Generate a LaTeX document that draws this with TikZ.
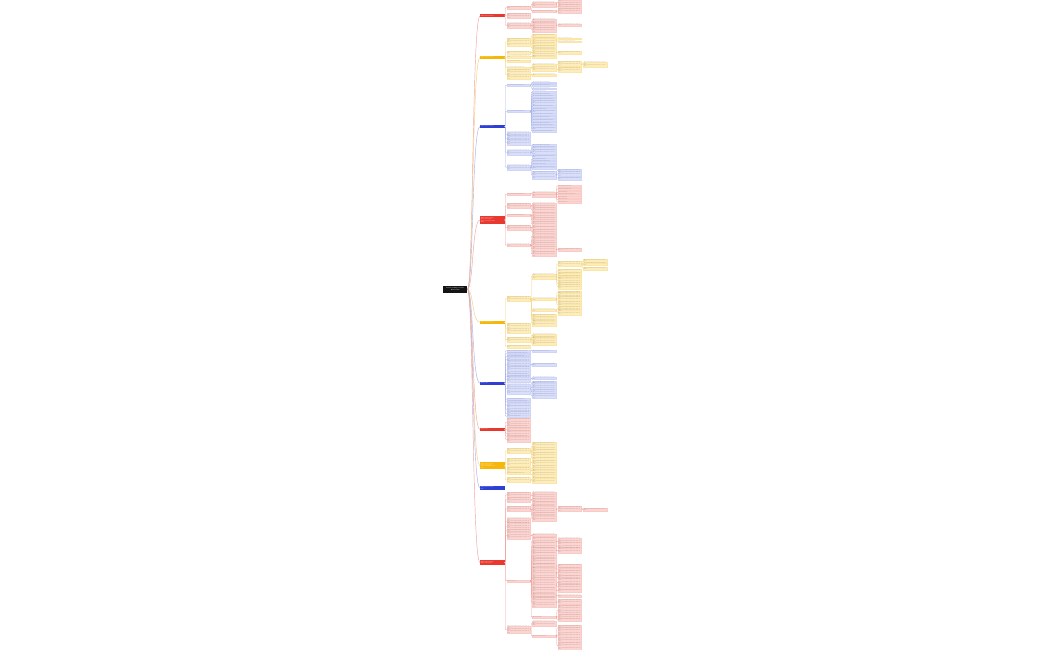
\documentclass[tikz,border=0pt]{standalone}
\usepackage{tikz}
\definecolor{rtop}{HTML}{E8382F}
\definecolor{rfill}{HTML}{FBD5D2}
\definecolor{rdraw}{HTML}{F9CBC7}
\definecolor{rline}{HTML}{F3A29E}
\definecolor{rtext}{HTML}{7A4C4A}
\definecolor{ytop}{HTML}{F6B60A}
\definecolor{yfill}{HTML}{FDEDBC}
\definecolor{ydraw}{HTML}{FBE6A8}
\definecolor{yline}{HTML}{F5D27C}
\definecolor{ytext}{HTML}{76683E}
\definecolor{btop}{HTML}{2E3FD3}
\definecolor{bfill}{HTML}{D9DEF9}
\definecolor{bdraw}{HTML}{CFD5F6}
\definecolor{bline}{HTML}{A8B2EE}
\definecolor{btext}{HTML}{4E5488}
\definecolor{rootfill}{HTML}{141414}
\newcommand\fullline{Key point with a short note and detail\\}
\newcommand\lineof[1]{\ifdim#1pt<7pt Key item note\else\ifdim#1pt<11pt Key point and a note\else\ifdim#1pt<15pt Key point with a short note\else\ifdim#1pt<19pt Key point with a short note here\else Key point with a short note and detail\fi\fi\fi\fi}
\newcommand\filler[2]{\ifcase#1\or\or\fullline\or\fullline\fullline\or\fullline\fullline\fullline\or\fullline\fullline\fullline\fullline\or\fullline\fullline\fullline\fullline\fullline\or\fullline\fullline\fullline\fullline\fullline\fullline\fi\lineof{#2}}
\tikzset{
  kidbase/.style={anchor=west, minimum width=23.5, text width=22.3, align=left,
    inner xsep=0.6, inner ysep=0.3, outer sep=0pt,
    font=\fontsize{1.05}{1.25}\selectfont, line width=0.1},
  kidr/.style={kidbase, fill=rfill, draw=rdraw, text=rtext},
  kidy/.style={kidbase, fill=yfill, draw=ydraw, text=ytext},
  kidb/.style={kidbase, fill=bfill, draw=bdraw, text=btext},
  lnbase/.style={line width=0.3, rounded corners=0.8},
  liner/.style={lnbase, draw=rline},
  liney/.style={lnbase, draw=yline},
  lineb/.style={lnbase, draw=bline},
  trunk/.style={line width=0.45},
  topbase/.style={anchor=west, minimum width=24.5, text width=23, align=left,
    inner xsep=0.75, inner ysep=0.4, outer sep=0pt,
    font=\fontsize{1.1}{1.4}\selectfont\bfseries, text=white},
  topr/.style={topbase, fill=rtop},
  topy/.style={topbase, fill=ytop},
  topb/.style={topbase, fill=btop},
  rootbox/.style={anchor=west, minimum width=24, minimum height=7, text width=22,
    align=center, inner sep=0.5, fill=rootfill, text=white,
    font=\fontsize{1.4}{1.8}\selectfont\bfseries}
}
\newcommand\kids[4]{%
  \foreach \yy/\nn/\ww [count=\ii] in {#4}{%
    \node[kid#3, minimum height={\nn*1.25+0.6}] (#1-\ii) at (#2,\yy) {\filler{\nn}{\ww}};
    \draw[line#3] (#1.east) -- ++(0.8,0) |- (#1-\ii.west);
  }}
\begin{document}
\begin{tikzpicture}[x=1pt,y=-1pt]
\useasboundingbox[fill=white] (0,0) rectangle (1050,650);

\node[rootbox] (root) at (443,289.2) {Central Topic Title\\Overview};

\node[topr, minimum height=3] (B1) at (480,16) {Main branch topic};
\node[topy, minimum height=3] (B2) at (480,57.5) {Main branch topic};
\node[topb, minimum height=3] (B3) at (480,126.5) {Main branch topic};
\node[topr, minimum height=8] (B4) at (480,220) {Main branch topic\\supporting line\\supporting line here\\more};
\node[topy, minimum height=3] (B5) at (480,322.3) {Main branch topic};
\node[topb, minimum height=3] (B6) at (480,383.3) {Main topic};
\node[topr, minimum height=3] (B7) at (480,429.7) {Main topic};
\node[topy, minimum height=7] (B8) at (480,465.8) {Main branch topic\\supporting line\\supporting line here\\more};
\node[topb, minimum height=4] (B9) at (480,488) {Main branch topic\\line};
\node[topr, minimum height=5] (B10) at (480,562.5) {Main branch topic\\supporting line};

\foreach \t/\c in {B1/rline,B2/yline,B3/bline,B4/rline,B5/yline,B6/bline,B7/rline,B8/yline,B9/bline,B10/rline}{
  \draw[trunk, draw=\c] (root.east) .. controls +(6,0) and +(-8,0) .. (\t.west);
}

% Branch 1
\kids{B1}{507}{r}{7.5/1/23.5, 16/2/23.5, 25.5/2/23.5}
\kids{B1-1}{532.5}{r}{4.3/2/23.5, 11.3/1/18}
\kids{B1-1-1}{558}{r}{2.2/2/23.5, 7/2/23.5}
\kids{B1-1-2}{558}{r}{11/2/23.5}
\kids{B1-3}{532.5}{r}{21.2/2/23.5, 25.3/2/23.5, 29.8/2/23.5}
\kids{B1-3-2}{558}{r}{25/1/20}

% Branch 2
\kids{B2}{507}{y}{42/3/23.5, 52.5/1/22, 57/1/20, 61/1/9, 67.7/1/13, 74.5/4/23.5}
\kids{B2-1}{532.5}{y}{35.8/1/23.5, 40.3/2/23.5, 44/1/20, 48/2/23.5}
\kids{B2-1-2}{558}{y}{38.5/1/8, 41.5/1/12}
\kids{B2-2}{532.5}{y}{52.7/3/23.5}
\kids{B2-2-1}{558}{y}{52.5/1/23.5}
\kids{B2-3}{532.5}{y}{57/1/23.5}
\kids{B2-5}{532.5}{y}{67.5/3/23.5}
\kids{B2-5-1}{558}{y}{64/2/23.5, 69.7/2/23.5}
\kids{B2-5-1-1}{583.5}{y}{64.5/2/23.5}
\kids{B2-6}{532.5}{y}{75/1/23.5}

% Branch 3
\kids{B3}{507}{b}{85.3/1/13, 111.3/1/13, 134.5/2/23.5, 138.5/2/23.5, 142.5/2/23.5, 152.5/2/23.5, 167.3/2/23.5}
\kids{B3-1}{532.5}{b}{82.5/1/12, 85.3/1/12, 88.5/1/12}
\kids{B3-2}{532.5}{b}{91.7/1/10, 94/1/12, 96.3/1/16, 99.3/1/16, 102.8/2/23.5, 106.3/1/18, 109.3/1/10, 111.7/1/22, 114.3/1/18, 117.3/1/12, 120/1/16, 123/1/14, 125.7/1/16, 128.7/1/20, 131.3/1/18}
\kids{B3-6}{532.5}{b}{145.3/1/14, 148/1/20, 152/2/23.5, 156.3/1/22}
\kids{B3-7}{532.5}{b}{159.3/1/10, 161.7/1/12, 164.7/1/8, 168/1/20, 175/3/23.5}
\kids{B3-7-5}{558}{b}{170.3/1/23.5, 174/2/23.5, 178.3/1/23.5}

% Branch 4
\kids{B4}{507}{r}{194.2/1/12, 206/2/23.5, 215.2/1/13, 227.7/2/23.5, 245.2/1/23.5}
\kids{B4-1}{532.5}{r}{194.2/2/23.5}
\kids{B4-1-1}{558}{r}{185.8/1/8, 188.8/1/8, 192.2/1/5, 194.7/1/12, 197.2/1/6, 199.7/1/6, 202.3/1/6}
\kids{B4-2}{532.5}{r}{205.5/2/23.5, 210/2/23.5}
\kids{B4-3}{532.5}{r}{215.5/2/23.5, 220/2/23.5, 223.8/2/23.5}
\kids{B4-4}{532.5}{r}{227.3/1/23.5, 231.7/2/23.5}
\kids{B4-5}{532.5}{r}{236.3/2/23.5, 240.3/2/23.5, 245/2/23.5, 249/2/23.5, 254/2/23.5}
\kids{B4-5-4}{558}{r}{249.8/1/23.5}

% Branch 5
\kids{B5}{507}{y}{298.8/2/23.5, 328.3/4/23.5, 339.7/2/23.5, 346.3/1/23.5}
\kids{B5-1}{532.5}{y}{276.2/2/23.5, 299.2/1/23.5, 310.2/1/23.5, 315.8/1/23.5, 319.5/2/23.5, 323.3/2/23.5}
\kids{B5-1-1}{558}{y}{264/2/23.5, 270.8/1/23.5, 274/1/23.5, 277.2/1/23.5, 280.2/2/23.5, 283.6/1/23.5, 286.7/2/23.5}
\kids{B5-1-1-1}{583.5}{y}{260.8/1/23.5, 264.2/1/23.5, 268.3/1/23.5}
\kids{B5-1-2}{558}{y}{292.5/1/23.5, 295.5/2/23.5, 298.8/2/23.5, 302.5/1/23.5, 305/1/23.5}
\kids{B5-1-3}{558}{y}{308.6/2/23.5, 312.2/2/23.5}
\kids{B5-3}{532.5}{y}{335.2/1/23.5, 337.6/1/23.5, 340.3/2/23.5, 343.5/1/23.5}

% Branch 6
\kids{B6}{507}{b}{350.8/1/16, 353.5/1/18, 356.3/1/14, 359.5/2/23.5, 364.7/3/23.5, 370/3/23.5, 374.2/1/16, 376.8/1/20, 379.3/2/23.5, 388.8/4/23.5, 399.2/1/14, 401.7/1/18, 405.3/2/23.5, 409.3/3/23.5, 413.7/2/23.5, 416.3/1/8}
\kids{B6-1}{532.5}{b}{350.8/1/12}
\kids{B6-5}{532.5}{b}{364.5/1/23.5}
\kids{B6-9}{532.5}{b}{378.2/1/20}
\kids{B6-10}{532.5}{b}{382.5/1/23.5, 386.7/3/23.5, 392/2/23.5, 396/2/23.5}

% Branch 7
\kids{B7}{507}{r}{422.3/3/23.5, 425.8/1/16, 429.2/1/22, 433.2/2/23.5, 436.2/1/16, 439.5/2/23.5}

% Branch 8
\kids{B8}{507}{y}{451/2/23.5, 462/3/23.5, 470/2/23.5, 473.3/1/14, 480/2/23.5}
\kids{B8-1}{532.5}{y}{446.2/3/23.5, 450.8/1/23.5, 454.7/2/23.5, 458.3/1/23.5}
\kids{B8-2}{532.5}{y}{462.7/2/23.5}
\kids{B8-3}{532.5}{y}{467.8/2/23.5, 471/1/23.5}
\kids{B8-4}{532.5}{y}{475/2/23.5}
\kids{B8-5}{532.5}{y}{480.3/2/23.5}

% Branch 10
\kids{B10}{507}{r}{494.7/2/23.5, 499.8/2/23.5, 508.8/2/23.5, 521.7/3/23.5, 526.7/3/23.5, 530.5/1/23.5, 535.5/3/23.5, 580.8/1/6, 629.7/3/23.5}
\kids{B10-1}{532.5}{r}{495.6/3/23.5}
\kids{B10-2}{532.5}{r}{500.2/1/23.5}
\kids{B10-3}{532.5}{r}{504.5/2/23.5, 509.7/3/23.5, 515/2/23.5, 518.4/2/23.5}
\kids{B10-3-2}{558}{r}{508.8/2/23.5}
\kids{B10-3-2-1}{583.5}{r}{509.5/1/23.5}
\kids{B10-7}{532.5}{r}{535/1/23.5}
\kids{B10-8}{532.5}{r}{541.3/3/23.5, 546.3/3/23.5, 550.5/2/23.5, 556.3/3/23.5, 562/3/23.5, 567.5/3/23.5, 572.8/4/23.5, 578.3/1/23.5, 585/4/23.5, 590.8/3/23.5, 595.2/1/23.5, 597.8/1/23.5, 602.5/4/23.5, 617.2/1/6}
\kids{B10-8-1}{558}{r}{541.7/3/23.5}
\kids{B10-8-2}{558}{r}{546.3/3/23.5}
\kids{B10-8-3}{558}{r}{550.2/2/23.5}
\kids{B10-8-6}{558}{r}{565.8/1/23.5, 569.2/1/23.5}
\kids{B10-8-7}{558}{r}{573/2/23.5, 577.6/2/23.5}
\kids{B10-8-9}{558}{r}{582.3/3/23.5, 587/2/23.5}
\kids{B10-8-10}{558}{r}{590.8/1/23.5}
\kids{B10-8-11}{558}{r}{596/1/23.5}
\kids{B10-8-13}{558}{r}{601.7/2/23.5}
\kids{B10-8-14}{558}{r}{610.5/4/23.5, 616.7/2/23.5, 619.8/1/23.5}
\kids{B10-9}{532.5}{r}{623.3/2/23.5, 635.8/1/8}
\kids{B10-9-2}{558}{r}{627.8/2/23.5, 636/7/23.5, 645.8/3/23.5}
\end{tikzpicture}
\end{document}
